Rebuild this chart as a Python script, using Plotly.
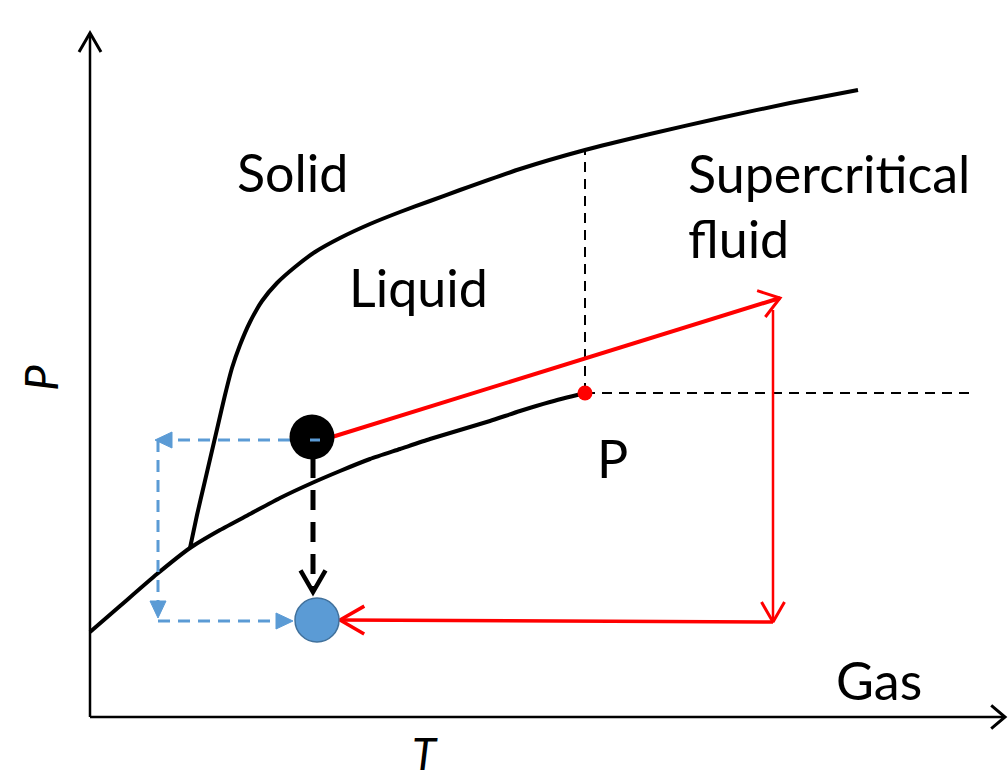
import numpy as np
import plotly.graph_objects as go

# ---- data (T, P in arbitrary schematic units; origin at axis corner) ----
vap_T = [0, 30, 67, 100, 130, 160, 190, 222, 250, 280, 310, 340, 370, 400, 430, 460, 495]
vap_P = [85, 111, 143, 169, 187, 203, 219, 234, 246, 258, 268, 278, 287, 296, 306, 315, 324]

melt_T = [100, 107, 114, 121, 128, 135, 142, 150, 160, 172, 187, 205, 225, 250, 280, 310, 340,
          370, 430, 495, 560, 630, 700, 768]
melt_P = [169, 202, 232, 262, 292, 322, 349, 372, 395, 416, 434, 450, 465, 479, 493, 505, 516,
          527, 548, 567, 583, 599, 614, 627]

crit_T, crit_P = 495, 324
crit_top_P = 567
crit_right_T = 885

start_T, start_P = 222, 280        # black circle (initial state)
end_T, end_P = 227, 97             # blue circle (final state)

red_T = [242, 690]                  # to supercritical
red_P = [280, 419]
red_down_T = [683, 683]
red_down_P = [407, 95]
red_back_T = [683, 250]
red_back_P = [95, 97]

drop_T = [223, 223]
drop_P = [259, 125]

blue1_T = [220, 65]
blue1_P = [277, 277]
blue2_T = [68, 68]
blue2_P = [277, 99]
blue3_T = [68, 203]
blue3_P = [96, 96]

xaxis_T = [0, 915]
yaxis_P = [0, 684]

labels = [
    ("Solid", 202, 545),
    ("Liquid", 328, 430),
    ("Gas", 789, 37),
    ("P", 522, 259),
]
sc_lines = [("Supercritical", 596, 544), ("fluid", 596, 479)]

FONT = "Lato, Calibri, 'Open Sans', sans-serif"

fig = go.Figure()


def line(x, y, color, width, dash=None, shape="linear", smoothing=None):
    ln = dict(color=color, width=width, dash=dash, shape=shape)
    if smoothing is not None:
        ln["smoothing"] = smoothing
    fig.add_trace(go.Scatter(x=x, y=y, mode="lines", hoverinfo="skip", line=ln))


def chevron(x0, y0, x1, y1, color, width, L=24, ang=35):
    d = np.array([x1 - x0, y1 - y0], float)
    d /= np.linalg.norm(d)
    pts = []
    for s in (1, -1):
        a = np.radians(180 + s * ang)
        r = np.array([d[0] * np.cos(a) - d[1] * np.sin(a), d[0] * np.sin(a) + d[1] * np.cos(a)])
        pts.append((x1 + L * r[0], y1 + L * r[1]))
    fig.add_trace(go.Scatter(x=[pts[0][0], x1, pts[1][0]], y=[pts[0][1], y1, pts[1][1]],
                             mode="lines", hoverinfo="skip", line=dict(color=color, width=width)))


def tri(x0, y0, x1, y1, color, L=17, w=8):
    d = np.array([x1 - x0, y1 - y0], float)
    d /= np.linalg.norm(d)
    n = np.array([-d[1], d[0]])
    b = np.array([x1, y1]) - L * d
    xs = [x1, b[0] + w * n[0], b[0] - w * n[0], x1]
    ys = [y1, b[1] + w * n[1], b[1] - w * n[1], y1]
    fig.add_trace(go.Scatter(x=xs, y=ys, mode="lines", fill="toself", fillcolor=color,
                             hoverinfo="skip", line=dict(color=color, width=1)))


# axes
line([0, 0], yaxis_P, "black", 2.5)
line(xaxis_T, [0, 0], "black", 2.5)
chevron(0, 0, 0, yaxis_P[1], "black", 3, L=22, ang=30)
chevron(0, 0, xaxis_T[1], 0, "black", 3, L=18, ang=40)

# dashed critical lines
line([crit_T, crit_T], [crit_P, crit_top_P], "black", 2, dash="10px,7px")
line([crit_T, crit_right_T], [crit_P, crit_P], "black", 2, dash="10px,7px")

# phase boundaries
line(vap_T, vap_P, "black", 4, shape="spline", smoothing=0.6)
line(melt_T, melt_P, "black", 4, shape="spline", smoothing=0.6)

# blue dashed path
BLUE = "#5b9bd5"
line(blue1_T, blue1_P, BLUE, 3, dash="12px,8px")
tri(blue1_T[0], blue1_P[0], blue1_T[1], blue1_P[1], BLUE)
line(blue2_T, blue2_P, BLUE, 3, dash="12px,8px")
tri(blue2_T[0], blue2_P[0], blue2_T[1], blue2_P[1], BLUE)
line(blue3_T, blue3_P, BLUE, 3, dash="12px,8px")
tri(blue3_T[0], blue3_P[0], blue3_T[1], blue3_P[1], BLUE)

# red path
RED = "#ff0000"
line(red_T, red_P, RED, 4)
chevron(red_T[0], red_P[0], red_T[1], red_P[1], RED, 3, L=24, ang=35)
line(red_down_T, red_down_P, RED, 2.5)
chevron(red_down_T[0], red_down_P[0], red_down_T[1], red_down_P[1], RED, 3, L=23, ang=30)
line(red_back_T, red_back_P, RED, 3.5)
chevron(red_back_T[0], red_back_P[0], red_back_T[1], red_back_P[1], RED, 3.5, L=28, ang=30)

# black dashed drop arrow
line([drop_T[0], drop_T[1]], [drop_P[0], drop_P[1] + 4], "black", 5, dash="20px,12px")
chevron(drop_T[0], drop_P[0], drop_T[1], drop_P[1], "black", 4.5, L=25, ang=30)

# points
fig.add_trace(go.Scatter(x=[crit_T], y=[crit_P], mode="markers", hoverinfo="skip",
                         marker=dict(color=RED, size=15, line=dict(width=0))))
fig.add_trace(go.Scatter(x=[start_T], y=[start_P], mode="markers", hoverinfo="skip",
                         marker=dict(color="black", size=45, line=dict(width=0))))
fig.add_trace(go.Scatter(x=[end_T], y=[end_P], mode="markers", hoverinfo="skip",
                         marker=dict(color="#5b9bd5", size=44, line=dict(color="#41719c", width=1.5))))
# small blue dash visible on the black circle (start of blue path)
line([blue1_T[0] + 10, blue1_T[0]], [blue1_P[0], blue1_P[0]], BLUE, 3)

for txt, x, y in labels:
    fig.add_annotation(x=x, y=y, text=txt, showarrow=False,
                       font=dict(family=FONT, size=52, color="black"))
for txt, x, y in sc_lines:
    fig.add_annotation(x=x, y=y, text=txt, showarrow=False, xanchor="left",
                       font=dict(family=FONT, size=52, color="black"))
fig.add_annotation(x=335, y=-66, yanchor="bottom", yshift=2, text="<i>T</i>", showarrow=False,
                   font=dict(family=FONT, size=44, color="black"))
fig.add_annotation(x=-50, y=339, text="<i>P</i>", showarrow=False, textangle=-90,
                   font=dict(family=FONT, size=46, color="black"))

fig.update_layout(
    width=1008, height=783, margin=dict(l=0, r=0, t=0, b=0),
    paper_bgcolor="white", plot_bgcolor="white", showlegend=False,
    xaxis=dict(range=[-90, 918], visible=False, fixedrange=True),
    yaxis=dict(range=[-66, 717], visible=False, fixedrange=True),
)
fig.write_html("out.html")
